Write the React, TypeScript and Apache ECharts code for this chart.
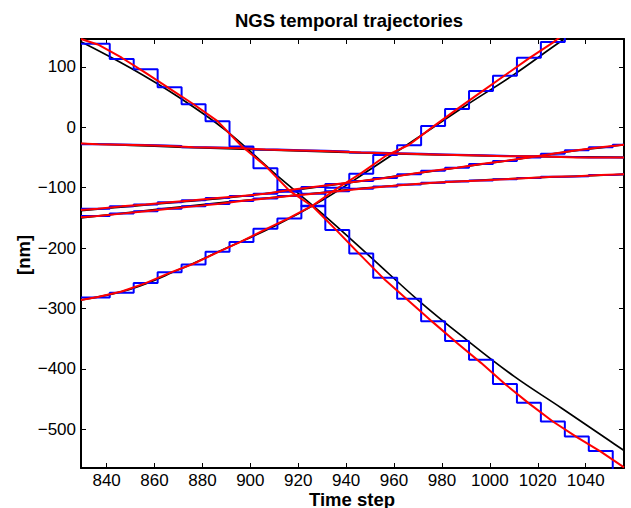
import React, { useEffect, useRef } from "react";
import * as echarts from "echarts";

// Hold start times of the sampled (blue) staircase
const holdStarts = [829.3, 841.3, 851.3, 861.3, 871.3, 881.3, 891.3, 901.3, 911.3, 921.3, 931.3, 941.3, 951.3, 961.3, 971.3, 981.3, 991.3, 1001.3, 1011.3, 1021.3, 1031.3, 1041.3, 1051.3];
const xEnd = 1056;
// Times of the red (estimated) trajectory vertices
const redTimes = [829.3, 836.3, 846.3, 856.3, 866.3, 876.3, 886.3, 896.3, 906.3, 916.3, 926.3, 936.3, 946.3, 956.3, 966.3, 976.3, 986.3, 996.3, 1006.3, 1016.3, 1026.3, 1036.3, 1046.3, 1056];
// Times of the black (true) trajectory samples
const trueTimes = [829.3, 850, 870, 890, 910, 930, 950, 970, 990, 1010, 1030, 1050, 1056];

// Blue staircase levels
const blueD = [138, 113, 96, 66, 38, 10, -32, -68, -107, -131, -170, -209, -249, -284, -321, -354, -385, -425, -456, -487, -512, -536, -575];
const blueI = [-282, -274, -258, -240, -227, -206, -190, -168, -151, -130, -100, -77, -46, -30, 2, 30, 60, 85, 115, 141, 172, 200, 228];
const blueF = [-28, -29, -30, -31, -33, -34, -35, -37, -38, -39, -40, -42, -43, -44, -45, -46, -47, -48, -48, -49, -50, -50, -50];
const blueR1 = [-135, -131, -128, -124, -121, -117, -114, -110, -104, -99, -94, -89, -84, -78, -72, -67, -61, -56, -50, -44, -38, -33, -29];
const blueR2 = [-147, -143, -139, -135, -131, -127, -122, -118, -114, -110, -106, -102, -98, -95, -92, -90, -88, -86, -84, -82, -81, -79, -78];

// Red estimated trajectories
const redD = [146, 137, 115, 90, 64, 38, 10, -31, -64, -105, -132, -172, -213, -253, -288, -323, -357, -390, -425, -457, -487, -513, -537, -563];
const redI = [-286, -281, -272, -258, -241, -226, -207, -189, -169, -150, -129, -101, -76, -48, -29, 1, 30, 58, 86, 114, 140, 171, 199, 215];
const redF = [-27, -28, -29, -30, -31, -33, -34, -35, -37, -38, -39, -40, -42, -43, -44, -45, -46, -47, -48, -48, -49, -50, -50, -50];
const redR1 = [-137, -135, -131, -128, -124, -121, -117, -114, -110, -104, -99, -94, -89, -84, -78, -72, -67, -61, -56, -50, -44, -38, -33, -29];
const redR2 = [-149, -147, -143, -139, -135, -131, -127, -122, -118, -114, -110, -106, -102, -98, -95, -92, -90, -88, -86, -84, -82, -81, -79, -78];

// Black true trajectories
const trueD = [141.5, 98, 50, -6, -76, -143, -214, -286, -351, -412, -465, -519, -535];
const trueI = [-286, -268, -236, -200, -164, -121, -70, -17, 36, 87, 143, 195, 212];
const trueF = [-27, -30, -33, -35.5, -38, -40.5, -43, -45, -46.5, -48, -49, -49.5, -50];
const trueR1 = [-138, -131, -124, -117, -108, -98, -87, -76, -65, -54, -42, -32, -29];
const trueR2 = [-150, -141, -132, -124, -116, -108, -100, -94, -89, -85, -82, -79, -78];

const xTicks = [840, 860, 880, 900, 920, 940, 960, 980, 1000, 1020, 1040];
const yTicks = [-500, -400, -300, -200, -100, 0, 100];

const FONT = "'Liberation Sans', Arial, Helvetica, sans-serif";

export default function App() {
  const ref = useRef<HTMLDivElement>(null);
  useEffect(() => {
    if (!ref.current) return;
    const chart = echarts.init(ref.current, undefined, { renderer: "svg" });

    const stair = (lv: number[]) => {
      const d = holdStarts.map((t, i) => [t, lv[i]]);
      d.push([xEnd, lv[lv.length - 1]]);
      return d;
    };
    const pair = (ts: number[], vs: number[]) => ts.map((t, i) => [t, vs[i]]);

    const blackS = (vs: number[]) => ({
      type: "line", data: pair(trueTimes, vs), showSymbol: false, smooth: 0.4,
      lineStyle: { color: "#000", width: 1.7 }, z: 2, silent: true,
    });
    const blueS = (vs: number[]) => ({
      type: "line", data: stair(vs), showSymbol: false, step: "end",
      lineStyle: { color: "#0000ff", width: 2 }, z: 3, silent: true,
    });
    const redS = (vs: number[]) => ({
      type: "line", data: pair(redTimes, vs), showSymbol: false,
      lineStyle: { color: "#ff0000", width: 2 }, z: 4, silent: true,
    });

    const axisLine = { show: true, onZero: false, lineStyle: { color: "#000", width: 2 } };
    const tickX = { show: true, inside: true, length: 5, customValues: xTicks, lineStyle: { color: "#000", width: 1 } };
    const tickY = { show: true, inside: true, length: 5, customValues: yTicks, lineStyle: { color: "#000", width: 1 } };

    chart.setOption({
      animation: false,
      backgroundColor: "#fff",
      grid: { left: 81, right: 7, top: 39, bottom: 40, containLabel: false },
      xAxis: [
        {
          type: "value", position: "bottom", min: 829.3, max: 1056,
          axisLine, axisTick: tickX, splitLine: { show: false },
          axisLabel: { customValues: xTicks, fontSize: 17, color: "#000", margin: 4, fontFamily: FONT, formatter: (v: number) => String(v) },
        },
        {
          type: "value", position: "top", min: 829.3, max: 1056,
          axisLine, axisTick: tickX, splitLine: { show: false }, axisLabel: { show: false },
        },
      ],
      yAxis: [
        {
          type: "value", position: "left", min: -564, max: 146,
          axisLine, axisTick: tickY, splitLine: { show: false },
          axisLabel: {
            customValues: yTicks, fontSize: 17, color: "#000", margin: 5, fontFamily: FONT,
            formatter: (v: number) => (v < 0 ? "\u2212" + Math.abs(v) : String(v)),
          },
        },
        {
          type: "value", position: "right", min: -564, max: 146,
          axisLine, axisTick: tickY, splitLine: { show: false }, axisLabel: { show: false },
        },
      ],
      graphic: [
        {
          type: "text", x: 349, y: 20, silent: true,
          style: { text: "NGS temporal trajectories", fill: "#000", font: `bold 18.5px ${FONT}`, textAlign: "center", textVerticalAlign: "middle" },
        },
        {
          type: "text", x: 352, y: 499, silent: true,
          style: { text: "Time step", fill: "#000", font: `bold 18.5px ${FONT}`, textAlign: "center", textVerticalAlign: "middle" },
        },
        {
          type: "text", x: 23.5, y: 255, rotation: Math.PI / 2, silent: true,
          style: { text: "[nm]", fill: "#000", font: `bold 18.5px ${FONT}`, textAlign: "center", textVerticalAlign: "middle" },
        },
      ],
      series: [
        blackS(trueD), blackS(trueI), blackS(trueF), blackS(trueR1), blackS(trueR2),
        blueS(blueD), blueS(blueI), blueS(blueF), blueS(blueR1), blueS(blueR2),
        redS(redD), redS(redI), redS(redF), redS(redR1), redS(redR2),
      ],
    });
    return () => chart.dispose();
  }, []);
  return <div ref={ref} style={{ position: "absolute", left: 0, top: 0, width: 631, height: 508 }} />;
}
